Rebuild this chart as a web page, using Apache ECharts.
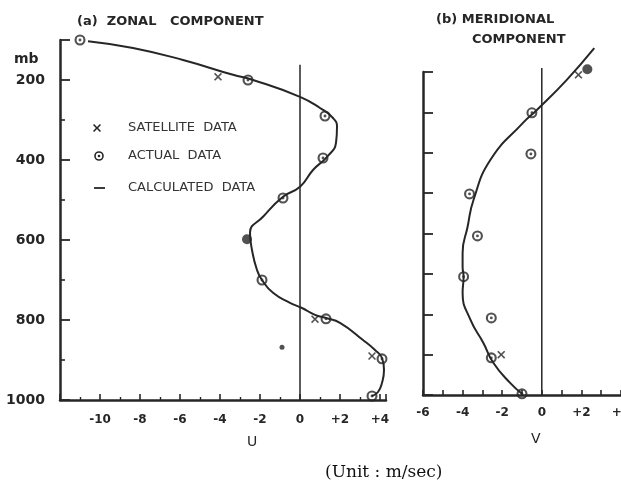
<!DOCTYPE html>
<html><head><meta charset="utf-8">
<script src="https://cdn.jsdelivr.net/npm/echarts@6/dist/echarts.min.js"></script>
<style>html,body{margin:0;padding:0;background:#fff}#c{width:621px;height:486px}</style>
</head><body><div id="c"></div>
<script>
// ---------- tick values ----------
const pMajorA = [100, 200, 400, 600, 800, 1000];
const pLabelsA = [200, 400, 600, 800, 1000];
const pMinorA = [300, 500, 700, 900];
const uLabels = [-10, -8, -6, -4, -2, 0, 2, 4];
const vLabels = [-6, -4, -2, 0, 2, 4];

// ---------- (a) zonal component: [u (m/s), p (mb)] ----------
const zonalCalculated = [
  [-10.6, 103], [-8.35, 120], [-5.85, 150], [-3.35, 187], [-2.35, 200], [0, 242],
  [1.0, 270], [1.65, 295], [1.85, 317], [1.8, 357], [1.35, 392], [0.65, 425],
  [0, 467], [-0.85, 492], [-1.85, 542], [-2.5, 582], [-2.4, 625], [-2.15, 675],
  [-1.9, 700], [-1.35, 732], [-0.5, 757], [0.1, 770], [0.75, 787], [1.3, 795],
  [2.0, 807], [3.15, 850], [3.75, 875], [4.1, 895], [4.2, 925], [4.1, 957],
  [3.9, 980], [3.6, 990]
];
const zonalActual = [
  [-11.0, 100], [-2.6, 200], [1.25, 290], [1.15, 395], [-0.85, 495],
  [-1.9, 700], [1.3, 797], [4.1, 897], [3.6, 990]
];
const zonalActualSolid = [[-2.65, 598]];
const zonalDot = [[-0.9, 868]];
const zonalSatellite = [[-4.1, 192], [0.75, 798], [3.6, 890]];
const zonalZeroLine = [[0, 162], [0, 1000]];

// ---------- (b) meridional component: [v (m/s), p (mb)] ----------
const meridCalculated = [
  [2.65, 141], [1.25, 220], [-0.25, 294], [-0.95, 326], [-2.6, 418], [-3.45, 517],
  [-3.75, 584], [-4.0, 648], [-4.0, 683], [-3.95, 707], [-4.0, 747], [-3.6, 814],
  [-2.95, 871], [-2.45, 920], [-1.6, 970], [-1.0, 997]
];
const meridActual = [
  [-0.5, 301], [-0.55, 403], [-3.65, 502], [-3.25, 606], [-3.95, 707],
  [-2.55, 809], [-2.55, 908], [-1.0, 997]
];
const meridActualSolid = [[2.3, 193]];
const meridSatellite = [[1.85, 207], [-2.05, 900]];
const meridZeroLine = [[0, 190], [0, 1000]];

// ---------- styles ----------
const INK = '#262626';
const RING = 'path://M0,-10A10,10 0 1,1 0,10A10,10 0 1,1 0,-10Z M0,-6.2A6.2,6.2 0 1,0 0,6.2A6.2,6.2 0 1,0 0,-6.2Z M0,-2.6A2.6,2.6 0 1,1 0,2.6A2.6,2.6 0 1,1 0,-2.6Z';
const CROSS_PTS = [[1.4,0],[5,3.6],[8.6,0],[10,1.4],[6.4,5],[10,8.6],[8.6,10],[5,6.4],[1.4,10],[0,8.6],[3.6,5],[0,1.4]];
const CROSS = 'path://M' + CROSS_PTS.map(p => p.join(',')).join('L') + 'Z';
const FONT = 'DejaVu Sans';
const signed = v => (v > 0 ? '+' + v : String(v));

function valueAxisX(grid, min, max, extra) {
  return Object.assign({
    type: 'value', gridIndex: grid, min: min, max: max, position: 'bottom',
    splitLine: { show: false },
    axisLine: { show: true, onZero: false, lineStyle: { color: INK, width: 2.5 } }
  }, extra);
}

const option = {
  backgroundColor: '#fff',
  animation: false,
  grid: [
    { left: 60, top: 40, width: 326, height: 360, outerBoundsMode: 'none', containLabel: false },
    { left: 423, top: 72, width: 198, height: 323, outerBoundsMode: 'none', containLabel: false }
  ],
  xAxis: [
    valueAxisX(0, -12, 4.3, {
      interval: 2,
      axisTick: { inside: true, length: 6, lineStyle: { color: INK, width: 1.6 } },
      minorTick: { show: true, splitNumber: 2, length: 3, lineStyle: { color: INK, width: 1.4 } },
      axisLabel: { color: INK, fontFamily: FONT, fontWeight: 'bold', fontSize: 12, margin: 14,
        formatter: v => (uLabels.indexOf(v) >= 0 ? signed(v) : '') }
    }),
    valueAxisX(1, -6, 4, {
      interval: 1,
      axisTick: { inside: true, length: 5, lineStyle: { color: INK, width: 1.6 } },
      axisLabel: { color: INK, fontFamily: FONT, fontWeight: 'bold', fontSize: 12, margin: 12,
        hideOverlap: false, showMaxLabel: true,
        formatter: v => (vLabels.indexOf(v) >= 0 ? signed(v) : '') }
    })
  ],
  yAxis: [
    {
      type: 'value', gridIndex: 0, min: 100, max: 1000, inverse: true, position: 'left',
      splitLine: { show: false },
      axisLine: { show: true, onZero: false, lineStyle: { color: INK, width: 2.5 } },
      axisTick: { inside: true, length: 10, customValues: pMajorA, lineStyle: { color: INK, width: 1.8 } },
      axisLabel: { customValues: pLabelsA, margin: 15, color: INK, fontFamily: FONT, fontWeight: 'bold', fontSize: 14,
        formatter: v => String(v) }
    },
    {
      type: 'value', gridIndex: 0, min: 100, max: 1000, inverse: true, position: 'left', offset: 0,
      splitLine: { show: false }, axisLine: { show: false, onZero: false }, axisLabel: { show: false },
      axisTick: { inside: true, length: 5, customValues: pMinorA, lineStyle: { color: INK, width: 1.6 } }
    },
    {
      type: 'value', gridIndex: 1, min: 200, max: 1000, interval: 100, inverse: true, position: 'left',
      splitLine: { show: false },
      axisLine: { show: true, onZero: false, lineStyle: { color: INK, width: 2.5 } },
      axisTick: { inside: true, length: 10, lineStyle: { color: INK, width: 1.8 } },
      axisLabel: { show: false }
    }
  ],
  title: [
    { text: '(a)  ZONAL   COMPONENT', left: 72, top: 10,
      textStyle: { color: INK, fontFamily: FONT, fontWeight: 'bold', fontSize: 13 } },
    { text: '(b) MERIDIONAL', left: 431, top: 8,
      textStyle: { color: INK, fontFamily: FONT, fontWeight: 'bold', fontSize: 13 } },
    { text: 'COMPONENT', left: 467, top: 28,
      textStyle: { color: INK, fontFamily: FONT, fontWeight: 'bold', fontSize: 13 } },
    { text: '(Unit : m/sec)', left: 320, top: 459,
      textStyle: { color: '#111', fontFamily: 'DejaVu Serif', fontWeight: 'normal', fontSize: 17 } }
  ],
  graphic: [
    { type: 'text', x: 14, y: 52, style: { text: 'mb', fill: INK, font: 'bold 14px "DejaVu Sans"' } },
    { type: 'text', x: 247, y: 435, style: { text: 'U', fill: INK, font: '14px "DejaVu Sans"' } },
    { type: 'text', x: 531, y: 432, style: { text: 'V', fill: INK, font: '14px "DejaVu Sans"' } },
    // legend
    { type: 'polygon', shape: { points: CROSS_PTS.map(p => [93 + p[0] * 0.8, 124 + p[1] * 0.8]) }, style: { fill: INK } },
    { type: 'circle', shape: { cx: 99, cy: 156, r: 4 }, style: { fill: '#fff', stroke: INK, lineWidth: 1.6 } },
    { type: 'circle', shape: { cx: 99, cy: 156, r: 1.3 }, style: { fill: INK } },
    { type: 'line', shape: { x1: 94, y1: 188, x2: 105, y2: 188 }, style: { stroke: INK, lineWidth: 1.8 } },
    { type: 'text', x: 128, y: 121, style: { text: 'SATELLITE  DATA', fill: '#333', font: '13px "DejaVu Sans"' } },
    { type: 'text', x: 128, y: 149, style: { text: 'ACTUAL  DATA', fill: '#333', font: '13px "DejaVu Sans"' } },
    { type: 'text', x: 128, y: 181, style: { text: 'CALCULATED  DATA', fill: '#333', font: '13px "DejaVu Sans"' } }
  ],
  series: [
    // ---- panel (a)
    { name: 'zero U', type: 'line', xAxisIndex: 0, yAxisIndex: 0, data: zonalZeroLine,
      showSymbol: false, silent: true, lineStyle: { color: INK, width: 1.5 } },
    { name: 'CALCULATED DATA', type: 'line', xAxisIndex: 0, yAxisIndex: 0, data: zonalCalculated,
      smooth: 0.5, showSymbol: false, lineStyle: { color: INK, width: 2 } },
    { name: 'ACTUAL DATA', type: 'scatter', xAxisIndex: 0, yAxisIndex: 0, data: zonalActual,
      symbol: RING, symbolSize: 11, itemStyle: { color: INK } },
    { name: 'ACTUAL DATA', type: 'scatter', xAxisIndex: 0, yAxisIndex: 0, data: zonalActualSolid,
      symbol: 'circle', symbolSize: 10, itemStyle: { color: INK } },
    { name: 'dot', type: 'scatter', xAxisIndex: 0, yAxisIndex: 0, data: zonalDot,
      symbol: 'circle', symbolSize: 5, itemStyle: { color: INK } },
    { name: 'SATELLITE DATA', type: 'scatter', xAxisIndex: 0, yAxisIndex: 0, data: zonalSatellite,
      symbol: CROSS, symbolSize: 8, itemStyle: { color: INK } },
    // ---- panel (b)
    { name: 'zero V', type: 'line', xAxisIndex: 1, yAxisIndex: 2, data: meridZeroLine, clip: false,
      showSymbol: false, silent: true, lineStyle: { color: INK, width: 1.5 } },
    { name: 'CALCULATED DATA', type: 'line', xAxisIndex: 1, yAxisIndex: 2, data: meridCalculated, clip: false,
      smooth: 0.5, showSymbol: false, lineStyle: { color: INK, width: 2 } },
    { name: 'ACTUAL DATA', type: 'scatter', xAxisIndex: 1, yAxisIndex: 2, data: meridActual, clip: false,
      symbol: RING, symbolSize: 11, itemStyle: { color: INK } },
    { name: 'ACTUAL DATA', type: 'scatter', xAxisIndex: 1, yAxisIndex: 2, data: meridActualSolid, clip: false,
      symbol: 'circle', symbolSize: 10, itemStyle: { color: INK } },
    { name: 'SATELLITE DATA', type: 'scatter', xAxisIndex: 1, yAxisIndex: 2, data: meridSatellite, clip: false,
      symbol: CROSS, symbolSize: 8, itemStyle: { color: INK } }
  ]
};

const chart = echarts.init(document.getElementById('c'), null, { renderer: 'canvas' });
chart.setOption(option);
</script>
</body></html>
